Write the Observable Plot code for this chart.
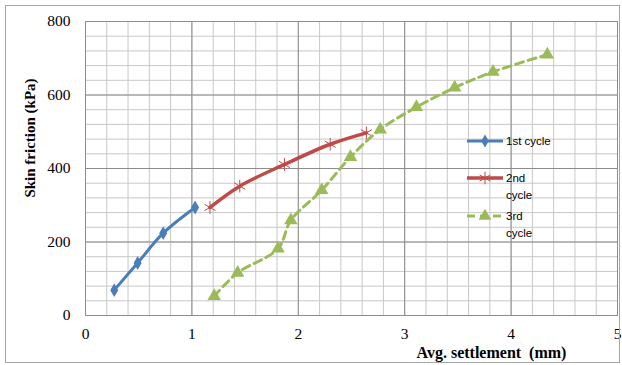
<!DOCTYPE html>
<html>
<head>
<meta charset="utf-8">
<script src="https://cdn.jsdelivr.net/npm/d3@7"></script>
<script src="https://cdn.jsdelivr.net/npm/@observablehq/plot@0.6"></script>
<style>
  html, body { margin: 0; padding: 0; background: #fff; }
  #chart svg { display: block; }
  #chart svg text { font-family: "Liberation Serif", "Times New Roman", serif; }
  #chart svg g[aria-label="x-axis tick label"] text,
  #chart svg g[aria-label="y-axis tick label"] text { font-size: 15.5px; }
  #chart svg g.legend text { font-family: "Liberation Sans", Arial, sans-serif; font-size: 11.5px; }
</style>
</head>
<body>
<div id="chart"></div>
<script>
// ---- data ----
const cycle1X = [0.27, 0.49, 0.73, 1.03];
const cycle1Y = [69, 143, 224, 294];
const cycle2X = [1.17, 1.45, 1.87, 2.30, 2.64];
const cycle2Y = [294, 352, 411, 466, 497];
const cycle3X = [1.21, 1.43, 1.81, 1.93, 2.22, 2.49, 2.77, 3.11, 3.47, 3.83, 4.34];
const cycle3Y = [53, 116, 182, 259, 341, 431, 506, 567, 620, 663, 710];
const seriesNames = ["1st cycle", "2nd cycle", "3rd cycle"];
const xTicks = [0, 1, 2, 3, 4, 5];
const yTicks = [0, 200, 400, 600, 800];
const xMinor = d3.range(0, 5.0001, 0.2);
const yMinor = d3.range(0, 800.001, 40);
const xTitle = "Avg. settlement  (mm)";
const yTitle = "Skin friction (kPa)";

const toRows = (xs, ys) => xs.map((x, i) => ({x, y: ys[i]}));
const s1 = toRows(cycle1X, cycle1Y);
const s2 = toRows(cycle2X, cycle2Y);
const s3 = toRows(cycle3X, cycle3Y);

const blue = "#4a7ebb", red = "#be4b48", green = "#9bbb59";
const serif = "Liberation Serif, Times New Roman, serif";

const plot = Plot.plot({
  width: 622,
  height: 365,
  marginLeft: 85,
  marginRight: 5,
  marginTop: 21,
  marginBottom: 50,
  style: {fontFamily: serif, fontSize: "15px", color: "#000", background: "#fff"},
  x: {domain: [0, 5]},
  y: {domain: [0, 800]},
  marks: [
    Plot.ruleX(xMinor, {stroke: "#c8c8c8", strokeWidth: 1}),
    Plot.ruleY(yMinor, {stroke: "#c8c8c8", strokeWidth: 1}),
    Plot.ruleX(xTicks, {stroke: "#8c8c8c", strokeWidth: 1}),
    Plot.ruleY(yTicks, {stroke: "#8c8c8c", strokeWidth: 1}),
    Plot.frame({stroke: "#8c8c8c"}),
    Plot.axisX({ticks: xTicks, tickFormat: d => String(d), tickSize: 0, tickPadding: 12, label: null, fill: "#000"}),
    Plot.axisY({ticks: yTicks, tickFormat: d => String(d), tickSize: 0, tickPadding: 15, label: null, fill: "#000"}),
    Plot.line(s1, {x: "x", y: "y", stroke: blue, strokeWidth: 3, curve: "catmull-rom"}),
    Plot.dot(s1, {x: "x", y: "y", symbol: "diamond", fill: blue, r: 4.2}),
    Plot.line(s2, {x: "x", y: "y", stroke: red, strokeWidth: 3.5, curve: "catmull-rom"}),
    Plot.dot(s2, {x: "x", y: "y", symbol: "asterisk", stroke: red, strokeWidth: 1, r: 6}),
    Plot.line(s3, {x: "x", y: "y", stroke: green, strokeWidth: 3, strokeDasharray: "8,5", curve: "catmull-rom"}),
    Plot.dot(s3, {x: "x", y: "y", symbol: "triangle", fill: green, r: 5}),
    Plot.text([xTitle], {frameAnchor: "bottom", textAnchor: "middle", lineAnchor: "middle", dx: 140, dy: 37, fontWeight: "bold", fontSize: 16, fill: "#000"}),
    Plot.text([yTitle], {frameAnchor: "left", textAnchor: "middle", lineAnchor: "middle", rotate: -90, dx: -55, dy: -30.5, fontWeight: "bold", fontSize: 15, fill: "#000"})
  ]
});

document.getElementById("chart").appendChild(plot);

// outer chart border
const svg = d3.select(plot);
svg.append("rect")
  .attr("x", 5.5).attr("y", 5.5).attr("width", 614).attr("height", 357)
  .attr("fill", "none").attr("stroke", "#a6a6a6");

// legend (inside plot area, right side)
const leg = svg.append("g")
  .attr("class", "legend")
  .attr("text-anchor", "start")
  .attr("fill", "#000");
const legendRows = [
  {name: seriesNames[0], lines: ["1st cycle"], y: 141, color: blue, sym: d3.symbolDiamond, fill: true, dash: null, sw: 3, size: 50},
  {name: seriesNames[1], lines: ["2nd", "cycle"], y: 178, color: red, sym: d3.symbolAsterisk, fill: false, dash: null, sw: 3.5, size: 110},
  {name: seriesNames[2], lines: ["3rd", "cycle"], y: 216, color: green, sym: d3.symbolTriangle, fill: true, dash: "8,5", sw: 3, size: 70}
];
legendRows.forEach(r => {
  leg.append("line").attr("x1", 467).attr("x2", 503).attr("y1", r.y).attr("y2", r.y)
    .attr("stroke", r.color).attr("stroke-width", r.sw).attr("stroke-dasharray", r.dash);
  leg.append("path").attr("d", d3.symbol(r.sym, r.size)())
    .attr("transform", `translate(485,${r.y})`)
    .attr("fill", r.fill ? r.color : "none").attr("stroke", r.fill ? "none" : r.color);
  r.lines.forEach((t, i) => {
    leg.append("text").attr("x", 506).attr("y", r.y + i * 17).attr("dy", "0.35em")
      .attr("text-anchor", "start").text(t);
  });
});
</script>
</body>
</html>
